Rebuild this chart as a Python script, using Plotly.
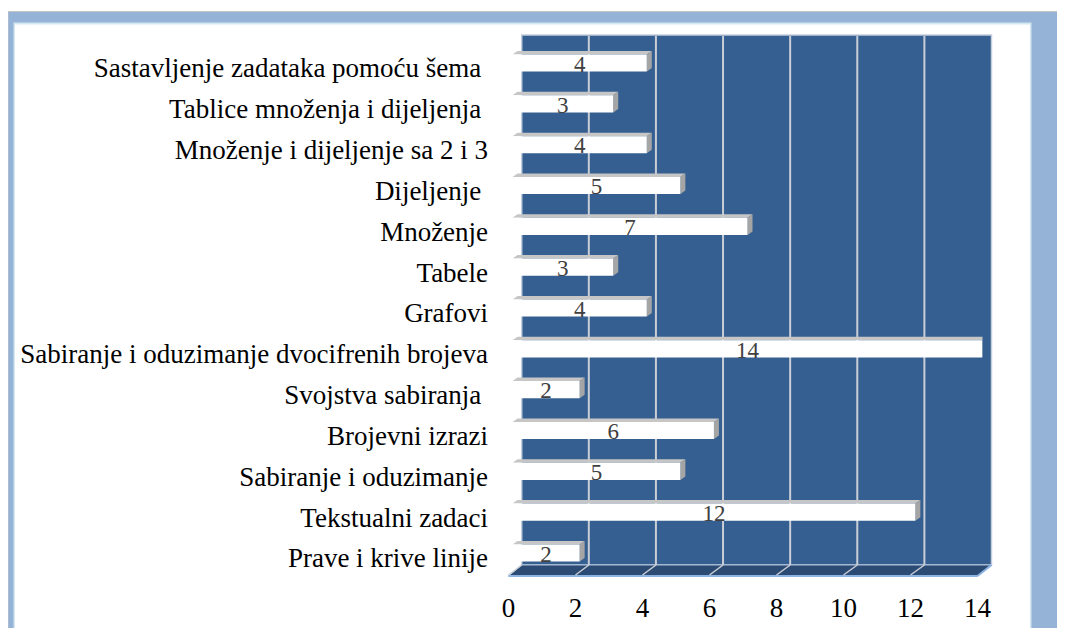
import plotly.graph_objects as go

# ---------------- data (top to bottom as in the picture) ----------------
categories = [
    "Sastavljenje zadataka pomoću šema\u00a0",
    "Tablice množenja i dijeljenja\u00a0",
    "Množenje i dijeljenje sa 2 i 3",
    "Dijeljenje\u00a0",
    "Množenje",
    "Tabele",
    "Grafovi",
    "Sabiranje i oduzimanje dvocifrenih brojeva",
    "Svojstva sabiranja\u00a0",
    "Brojevni izrazi",
    "Sabiranje i oduzimanje",
    "Tekstualni zadaci",
    "Prave i krive linije",
]
values = [4, 3, 4, 5, 7, 3, 4, 14, 2, 6, 5, 12, 2]
x_ticks = [0, 2, 4, 6, 8, 10, 12, 14]

# bottom-up order for a numeric category axis
cats_bu = categories[::-1]
vals_bu = values[::-1]
idx = list(range(len(cats_bu)))

# ---------------- geometry (window pixels; page body offsets the figure by 8px) ----------------
OFF = 8
W, H = 1065 - OFF, 628 - OFF
XMAX = 14
FRONT_X0, FRONT_X1 = 508.5, 977.5      # floor front plane (tick labels)
BAR_X0, BAR_X1 = 512.5, 982.5          # bar front plane
WALL_X0, WALL_X1 = 521.7, 991.5        # back wall
WALL_TOP, WALL_BOT = 35.0, 565.0
FLOOR_FRONT = 576.0
ROW0, ROW_STEP = 553.0, 40.83          # pixel centre of bottom row, row spacing
BAR_W = 0.42
DEPTH_DX, DEPTH_DY = 5.0, 3.5          # pixel depth of the bars
LABEL_DROP = 3.0                       # value labels sit slightly below bar centre (px)

def px(x):
    return (x - OFF) / W

def py(y):
    return 1 - (y - OFF) / H

def wall_x(v):
    return WALL_X0 + (WALL_X1 - WALL_X0) * v / XMAX

def front_x(v):
    return FRONT_X0 + (FRONT_X1 - FRONT_X0) * v / XMAX

y_lo = ROW0 + 0.5 * ROW_STEP
y_hi = ROW0 - (len(idx) - 0.5) * ROW_STEP

bar_ppu_x = (BAR_X1 - BAR_X0) / XMAX
dx = DEPTH_DX / bar_ppu_x
dy = DEPTH_DY / ROW_STEP

shapes = []
# page frame
shapes.append(dict(type="rect", xref="paper", yref="paper", x0=px(8), x1=px(1070), y0=py(11.5), y1=py(640),
                   fillcolor="#95B3D7", line=dict(color="#C4C4C4", width=1), layer="below"))
shapes.append(dict(type="rect", xref="paper", yref="paper", x0=px(13.5), x1=px(1031.5), y0=py(22.5), y1=py(640),
                   fillcolor="#D3E7F1", line=dict(width=0), layer="below"))
shapes.append(dict(type="rect", xref="paper", yref="paper", x0=px(15), x1=px(1030), y0=py(24.5), y1=py(640),
                   fillcolor="white", line=dict(width=0), layer="below"))
# back wall
shapes.append(dict(type="rect", xref="paper", yref="paper", x0=px(WALL_X0), x1=px(WALL_X1), y0=py(WALL_BOT), y1=py(WALL_TOP),
                   fillcolor="#365F91", line=dict(color="#C3CEDD", width=1.5), layer="below"))
# floor
floor_path = "M {a},{b} L {c},{b} L {d},{e} L {f},{e} Z".format(
    a=px(FRONT_X0), b=py(FLOOR_FRONT), c=px(FRONT_X1), d=px(WALL_X1), e=py(WALL_BOT), f=px(WALL_X0))
shapes.append(dict(type="path", xref="paper", yref="paper", path=floor_path,
                   fillcolor="#2C4B74", line=dict(color="#A9BCD6", width=1), layer="below"))
shapes.append(dict(type="line", xref="paper", yref="paper", x0=px(FRONT_X0), x1=px(FRONT_X1),
                   y0=py(FLOOR_FRONT), y1=py(FLOOR_FRONT), line=dict(color="#8DB3E2", width=2), layer="below"))
shapes.append(dict(type="line", xref="paper", yref="paper", x0=px(FRONT_X1), x1=px(WALL_X1),
                   y0=py(FLOOR_FRONT), y1=py(WALL_BOT), line=dict(color="#8DB3E2", width=2), layer="below"))
# grid lines on wall and floor
for t in x_ticks:
    wx, fx = wall_x(t), front_x(t)
    if 0 < t < XMAX:
        shapes.append(dict(type="line", xref="paper", yref="paper", x0=px(wx), x1=px(wx),
                           y0=py(WALL_TOP + 1), y1=py(WALL_BOT), line=dict(color="#C9CED6", width=2), layer="below"))
    if t < XMAX:
        shapes.append(dict(type="line", xref="paper", yref="paper", x0=px(wx), x1=px(fx),
                           y0=py(WALL_BOT), y1=py(FLOOR_FRONT - 1), line=dict(color="#C9CED6", width=1.5), layer="below"))

# 3-D faces of the bars (top and right side), from the data
for i, v in zip(idx, vals_bu):
    yt, yb = i + BAR_W / 2, i - BAR_W / 2
    top = f"M 0,{yt} L {v},{yt} L {v + dx},{yt + dy} L {dx},{yt + dy} Z"
    side = f"M {v},{yb} L {v},{yt} L {v + dx},{yt + dy} L {v + dx},{yb + dy} Z"
    shapes.append(dict(type="path", xref="x2", yref="y", path=top, fillcolor="#C6C6C6",
                       line=dict(width=0), layer="below"))
    shapes.append(dict(type="path", xref="x2", yref="y", path=side, fillcolor="#A5A5A5",
                       line=dict(width=0), layer="below"))

fig = go.Figure()
# invisible trace so that the main x/y subplot (with the visible tick labels) is drawn
fig.add_trace(go.Scatter(x=[None], y=[None], xaxis="x", yaxis="y", mode="markers",
                         hoverinfo="skip", showlegend=False))
fig.add_trace(go.Bar(y=idx, x=vals_bu, orientation="h", xaxis="x2", yaxis="y",
                     width=BAR_W, marker=dict(color="white", line=dict(width=0)),
                     hoverinfo="skip"))
fig.add_trace(go.Scatter(y=[i - LABEL_DROP / ROW_STEP for i in idx], x=[v / 2 for v in vals_bu],
                         xaxis="x2", yaxis="y",
                         mode="text", text=[str(v) for v in vals_bu], textposition="middle center",
                         textfont=dict(family="Liberation Serif", size=23, color="#404040"),
                         cliponaxis=False, hoverinfo="skip"))

fig.update_layout(
    width=W, height=H,
    margin=dict(l=0, r=0, t=0, b=0),
    paper_bgcolor="white", plot_bgcolor="rgba(0,0,0,0)",
    showlegend=False,
    shapes=shapes,
    font=dict(family="Liberation Serif", color="black"),
    xaxis=dict(domain=[px(FRONT_X0), px(FRONT_X1)], range=[0, XMAX], anchor="y",
               tickvals=x_ticks, ticktext=[str(t) for t in x_ticks],
               ticks="outside", ticklen=10, tickcolor="rgba(0,0,0,0)",
               tickfont=dict(family="Liberation Serif", size=27, color="black"),
               showgrid=False, zeroline=False, showline=False, automargin=False, fixedrange=True),
    xaxis2=dict(domain=[px(BAR_X0), px(BAR_X1)], range=[0, XMAX], anchor="y", visible=False,
                showgrid=False, zeroline=False, fixedrange=True),
    yaxis=dict(domain=[py(y_lo), py(y_hi)], range=[-0.5, len(idx) - 0.5], anchor="x",
               tickvals=idx, ticktext=cats_bu,
               ticks="outside", ticklen=14, tickcolor="rgba(0,0,0,0)", ticklabelshift=5,
               tickfont=dict(family="Liberation Serif", size=27, color="black"),
               showgrid=False, zeroline=False, showline=False, automargin=False, fixedrange=True),
)

fig.write_html("out.html")
